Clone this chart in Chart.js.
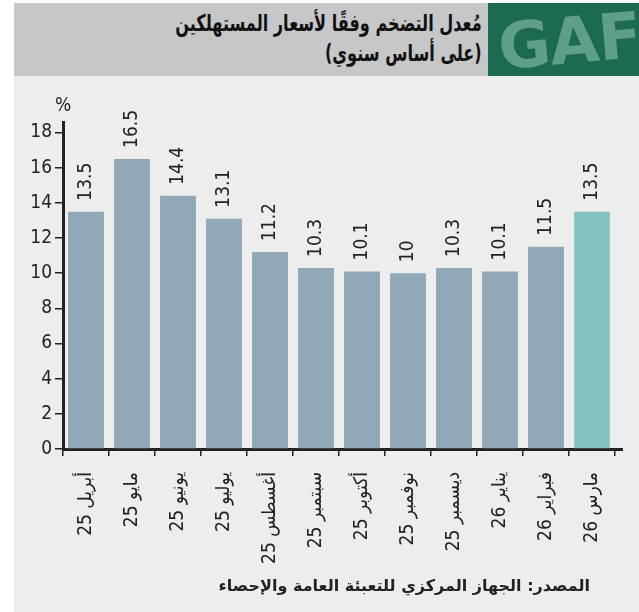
<!DOCTYPE html>
<html>
<head>
<meta charset="utf-8">
<script src="https://cdn.jsdelivr.net/npm/chart.js@4"></script>
<style>
  body { margin: 0; background: #fff; width: 639px; height: 612px; overflow: hidden; }
  #panel { position: absolute; left: 14px; top: 3px; width: 625px; height: 609px; background: #ededed; }
  #head { position: absolute; left: 0; top: 0; width: 625px; height: 73px; background: #c6c7c9; }
  #logo { position: absolute; left: 474px; top: 0; width: 151px; height: 73px; background: #1d6a53; overflow: hidden; }
  #logo span { position: absolute; left: 10px; top: 0px; font: bold 64px "DejaVu Sans", sans-serif; color: #5f9e87; transform: rotate(-5deg); letter-spacing: -1px; }
  #title { position: absolute; right: 157px; top: 5px; direction: rtl; text-align: right; font: bold 23px "DejaVu Sans", sans-serif; line-height: 30px; color: #111; white-space: nowrap; transform: scaleX(0.7); transform-origin: right top; }
  #chartBox { position: absolute; left: 0; top: 73px; width: 625px; height: 536px; }
  #source { position: absolute; right: 49px; top: 573px; direction: rtl; font: bold 16px "DejaVu Sans", sans-serif; color: #222; white-space: nowrap; }
</style>
</head>
<body>
<div id="panel">
  <div id="head"></div>
  <div id="logo"><span>GAFI</span></div>
  <div id="title">مُعدل التضخم وفقًا لأسعار المستهلكين<br>(على أساس سنوي)</div>
  <div id="chartBox"><canvas id="myChart" dir="rtl" width="625" height="536"></canvas></div>
  <div id="source">المصدر: الجهاز المركزي للتعبئة العامة والإحصاء</div>
</div>
<script>
// Values.
const months = ['أبريل 25', 'مايو 25', 'يونيو 25', 'يوليو 25', 'أغسطس 25', 'سبتمبر 25',
  'أكتوبر 25', 'نوفمبر 25', 'ديسمبر 25', 'يناير 26', 'فبراير 26', 'مارس 26'];
const inflation = [13.5, 16.5, 14.4, 13.1, 11.2, 10.3, 10.1, 10, 10.3, 10.1, 11.5, 13.5];
const yTicks = [0, 2, 4, 6, 8, 10, 12, 14, 16, 18];

const barColor = '#91a8b7';
const lastColor = '#84c3c0';
const inkColor = '#222';
const tickFont = { family: '"DejaVu Sans Condensed", "DejaVu Sans", sans-serif', size: 19 };

// the latest month gets the teal colour
const colors = months.map(function(m, i) {
  return i == months.length - 1 ? lastColor : barColor;
});

const valueLabels = {
  id: 'valueLabels',
  afterDatasetsDraw(chart) {
    const ctx = chart.ctx;
    const meta = chart.getDatasetMeta(0);
    ctx.save();
    ctx.fillStyle = inkColor;
    ctx.font = tickFont.size + 'px ' + tickFont.family;
    meta.data.forEach(function(bar, i) {
      ctx.save();
      ctx.translate(bar.x, bar.y - 11);
      ctx.rotate(-Math.PI / 2);
      ctx.textAlign = 'left';
      ctx.textBaseline = 'middle';
      ctx.fillText(String(inflation[i]), 0, 0);
      ctx.restore();
    });
    // unit over the y axis
    ctx.textAlign = 'center';
    ctx.textBaseline = 'middle';
    ctx.fillText('%', chart.scales.y.right, chart.chartArea.top - 16);
    // the x axis runs a little past the last tick
    ctx.strokeStyle = inkColor;
    ctx.lineWidth = 3;
    ctx.beginPath();
    ctx.moveTo(chart.chartArea.right - 1, chart.chartArea.bottom + 0.5);
    ctx.lineTo(chart.chartArea.right + 8, chart.chartArea.bottom + 0.5);
    ctx.stroke();
    ctx.restore();
  }
};

const ctx = document.getElementById('myChart').getContext('2d');
const myChart = new Chart(ctx, {
  type: 'bar',
  data: {
    labels: months,
    datasets: [{
      data: inflation,
      backgroundColor: colors,
      borderWidth: 0,
      categoryPercentage: 1,
      barPercentage: 0.78
    }]
  },
  options: {
    responsive: false,
    animation: false,
    layout: { padding: { top: 46, right: 24, left: 0, bottom: 0 } },
    plugins: {
      legend: { display: false },
      tooltip: { enabled: false }
    },
    scales: {
      x: {
        offset: true,
        grid: {
          offset: true,
          drawOnChartArea: false,
          tickLength: 7,
          color: inkColor,
          lineWidth: 1.5
        },
        border: { color: inkColor, width: 3 },
        ticks: {
          color: inkColor,
          font: tickFont,
          minRotation: 90,
          maxRotation: 90,
          autoSkip: false,
          padding: 16
        },
        afterFit: function(scale) { scale.height = 163; }
      },
      y: {
        min: 0,
        max: 18.6,
        grid: {
          drawOnChartArea: false,
          tickLength: 8,
          color: inkColor,
          lineWidth: 1.5
        },
        border: { color: inkColor, width: 3 },
        ticks: { color: inkColor, font: tickFont, padding: 3 },
        afterBuildTicks: function(scale) {
          scale.ticks = yTicks.map(function(v) { return { value: v }; });
        },
        afterFit: function(scale) { scale.width = 49; }
      }
    }
  },
  plugins: [valueLabels]
});
</script>
</body>
</html>
